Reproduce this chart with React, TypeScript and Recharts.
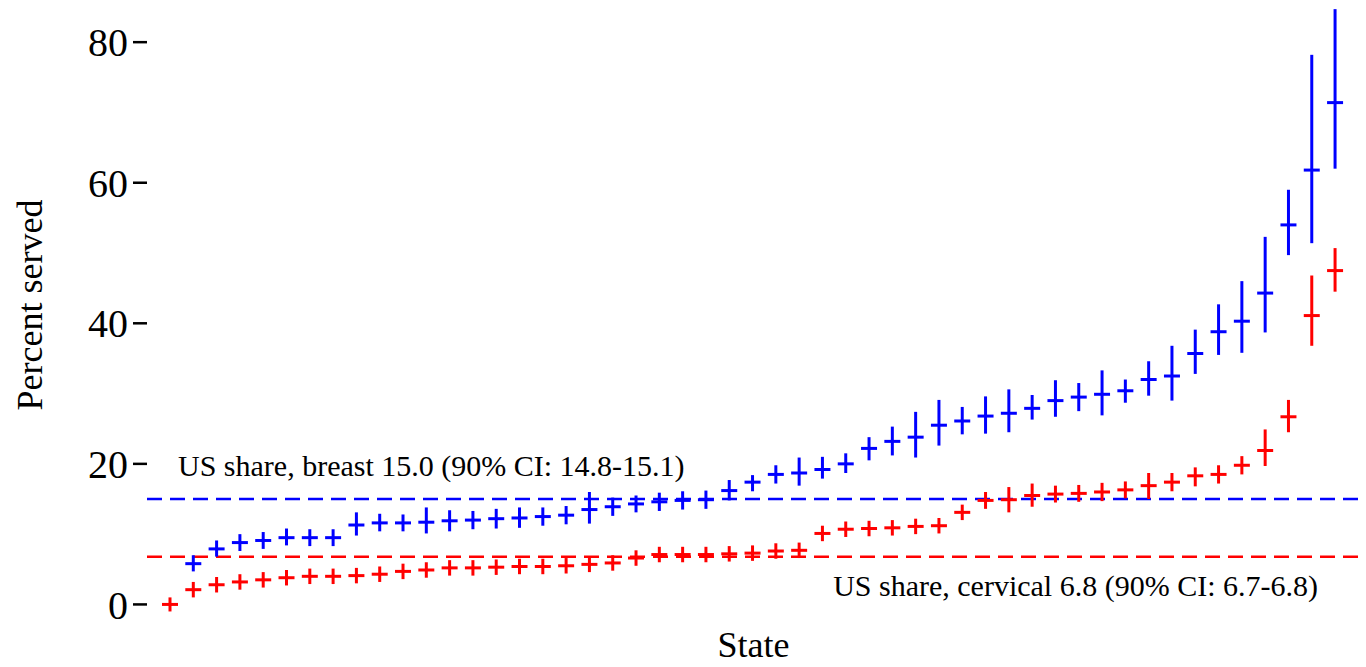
import { ComposedChart, Scatter, ErrorBar, XAxis, YAxis, ReferenceLine } from 'recharts';

const FONT = '"Liberation Serif", "Times New Roman", serif';
const BLUE = '#0000ff';
const RED = '#ff0000';

// states ranked separately for each screening program
const cervical = [0.0, 2.1, 2.8, 3.2, 3.5, 3.8, 4.0, 4.0, 4.1, 4.3, 4.7, 4.9, 5.2, 5.2, 5.3, 5.4, 5.4, 5.5, 5.7, 5.9, 6.6, 7.1, 7.1, 7.1, 7.2, 7.3, 7.6, 7.7, 10.1, 10.7, 10.8, 10.9, 11.1, 11.2, 13.1, 14.8, 14.9, 15.5, 15.7, 15.8, 16.0, 16.3, 16.9, 17.4, 18.3, 18.5, 19.8, 21.9, 26.7, 41.1, 47.5];
const cervicalLow = [-1.0, 1.0, 1.7, 2.1, 2.4, 2.7, 2.9, 2.9, 3.0, 3.2, 3.6, 3.8, 4.1, 4.1, 4.2, 4.3, 4.3, 4.4, 4.6, 4.8, 5.5, 6.0, 6.0, 6.0, 6.1, 6.2, 6.5, 6.6, 9.0, 9.6, 9.7, 9.8, 10.0, 10.1, 12.0, 13.6, 13.1, 13.9, 14.5, 14.6, 14.7, 15.1, 15.0, 16.1, 16.8, 17.2, 18.5, 19.7, 24.5, 36.8, 44.5];
const cervicalHigh = [1.0, 3.2, 3.9, 4.3, 4.6, 4.9, 5.1, 5.1, 5.2, 5.4, 5.8, 6.0, 6.3, 6.3, 6.4, 6.5, 6.5, 6.6, 6.8, 7.0, 7.7, 8.2, 8.2, 8.2, 8.3, 8.4, 8.7, 8.8, 11.2, 11.8, 11.9, 12.0, 12.2, 12.3, 14.2, 16.0, 16.7, 17.2, 16.9, 17.0, 17.3, 17.5, 18.7, 18.7, 19.5, 19.8, 21.1, 24.9, 29.1, 46.8, 50.7];

const breast = [null, 5.8, 7.9, 8.8, 9.1, 9.5, 9.5, 9.5, 11.3, 11.6, 11.6, 11.7, 11.9, 12.0, 12.2, 12.3, 12.5, 12.7, 13.5, 13.9, 14.3, 14.6, 14.8, 14.9, 16.2, 17.4, 18.5, 18.7, 19.2, 20.0, 22.2, 23.2, 23.8, 25.5, 26.1, 26.8, 27.2, 27.9, 29.0, 29.5, 29.9, 30.4, 32.0, 32.5, 35.7, 38.8, 40.3, 44.3, 54.0, 61.8, 71.4];
const breastLow = [null, 4.7, 6.8, 7.6, 7.9, 8.4, 8.3, 8.3, 9.8, 10.4, 10.4, 10.1, 10.4, 10.7, 10.8, 10.9, 11.2, 11.4, 11.5, 12.6, 13.1, 13.3, 13.5, 13.6, 14.8, 16.1, 17.2, 16.9, 17.9, 18.7, 20.5, 21.2, 20.9, 22.6, 24.2, 24.3, 24.5, 26.3, 26.7, 27.5, 26.9, 28.7, 29.7, 29.0, 32.8, 35.5, 35.8, 38.7, 49.7, 51.4, 62.0];
const breastHigh = [null, 7.0, 9.1, 10.0, 10.3, 10.8, 10.7, 10.7, 13.1, 12.9, 12.8, 13.8, 13.4, 13.3, 13.6, 13.8, 13.8, 14.0, 16.0, 15.2, 15.5, 15.9, 16.1, 16.2, 17.7, 18.4, 19.8, 20.9, 21.0, 21.5, 23.8, 25.3, 27.4, 29.1, 28.1, 29.6, 30.6, 29.8, 31.9, 31.5, 33.3, 32.0, 34.6, 36.8, 39.1, 42.7, 46.0, 52.3, 59.0, 78.2, 84.7];

const yTicks = [0, 20, 40, 60, 80];
const usBreast = 15.0;
const usCervical = 6.8;
const breastNote = 'US share, breast 15.0 (90% CI: 14.8-15.1)';
const cervicalNote = 'US share, cervical 6.8 (90% CI: 6.7-6.8)';

function toRows(values: (number | null)[], low: (number | null)[], high: (number | null)[]) {
  return values.flatMap((v, i) =>
    v == null ? [] : [{ rank: i + 1, value: v, ci: [v - (low[i] as number), (high[i] as number) - v] }]
  );
}

const cervicalRows = toRows(cervical, cervicalLow, cervicalHigh);
const breastRows = toRows(breast, breastLow, breastHigh);

const dash = (color: string) => (props: any) => (
  <line x1={props.cx - 8} x2={props.cx + 8} y1={props.cy} y2={props.cy} stroke={color} strokeWidth={3} />
);

export default function App() {
  return (
    <div style={{ position: 'absolute', left: 0, top: 0, background: '#fff' }}>
      <ComposedChart width={1366} height={667} margin={{ top: 0, right: 6, bottom: 0, left: 0 }}>
        <XAxis
          type="number"
          dataKey="rank"
          domain={[0.013, 52.07]}
          allowDataOverflow
          height={45}
          tick={false}
          tickLine={false}
          axisLine={false}
          label={{
            content: ({ viewBox }: any) => (
              <text x={viewBox.x + viewBox.width / 2} y={viewBox.y + viewBox.height - 10} textAnchor="middle"
                fontFamily={FONT} fontSize={36} fill="#000">State</text>
            ),
          }}
        />
        <YAxis
          type="number"
          domain={[-2.5, 86]}
          allowDataOverflow
          ticks={yTicks}
          interval={0}
          width={147}
          axisLine={false}
          tickSize={14}
          tickMargin={5}
          tickLine={{ stroke: '#000', strokeWidth: 2.5 }}
          tick={{ fill: '#000', fontSize: 40, fontFamily: FONT }}
          label={{
            content: ({ viewBox }: any) => {
              const cx = viewBox.x + 42;
              const cy = viewBox.y + viewBox.height / 2 - 6;
              return (
                <text x={cx} y={cy} transform={`rotate(-90 ${cx} ${cy})`} textAnchor="middle"
                  fontFamily={FONT} fontSize={36} fill="#000">Percent served</text>
              );
            },
          }}
        />
        <ReferenceLine
          y={usBreast}
          stroke={BLUE}
          strokeWidth={2.5}
          strokeDasharray="15 8"
          label={{
            content: ({ viewBox }: any) => (
              <text x={viewBox.x + 31} y={viewBox.y - 23} fontFamily={FONT} fontSize={30} fill="#000">{breastNote}</text>
            ),
          }}
        />
        <ReferenceLine
          y={usCervical}
          stroke={RED}
          strokeWidth={2.5}
          strokeDasharray="15 8"
          label={{
            content: ({ viewBox }: any) => (
              <text x={viewBox.x + viewBox.width - 42} y={viewBox.y + 39} textAnchor="end"
                fontFamily={FONT} fontSize={30} fill="#000">{cervicalNote}</text>
            ),
          }}
        />
        <Scatter data={cervicalRows} dataKey="value" shape={dash(RED)} isAnimationActive={false}>
          <ErrorBar dataKey="ci" direction="y" width={0} stroke={RED} strokeWidth={3} isAnimationActive={false} />
        </Scatter>
        <Scatter data={breastRows} dataKey="value" shape={dash(BLUE)} isAnimationActive={false}>
          <ErrorBar dataKey="ci" direction="y" width={0} stroke={BLUE} strokeWidth={3} isAnimationActive={false} />
        </Scatter>
      </ComposedChart>
    </div>
  );
}
